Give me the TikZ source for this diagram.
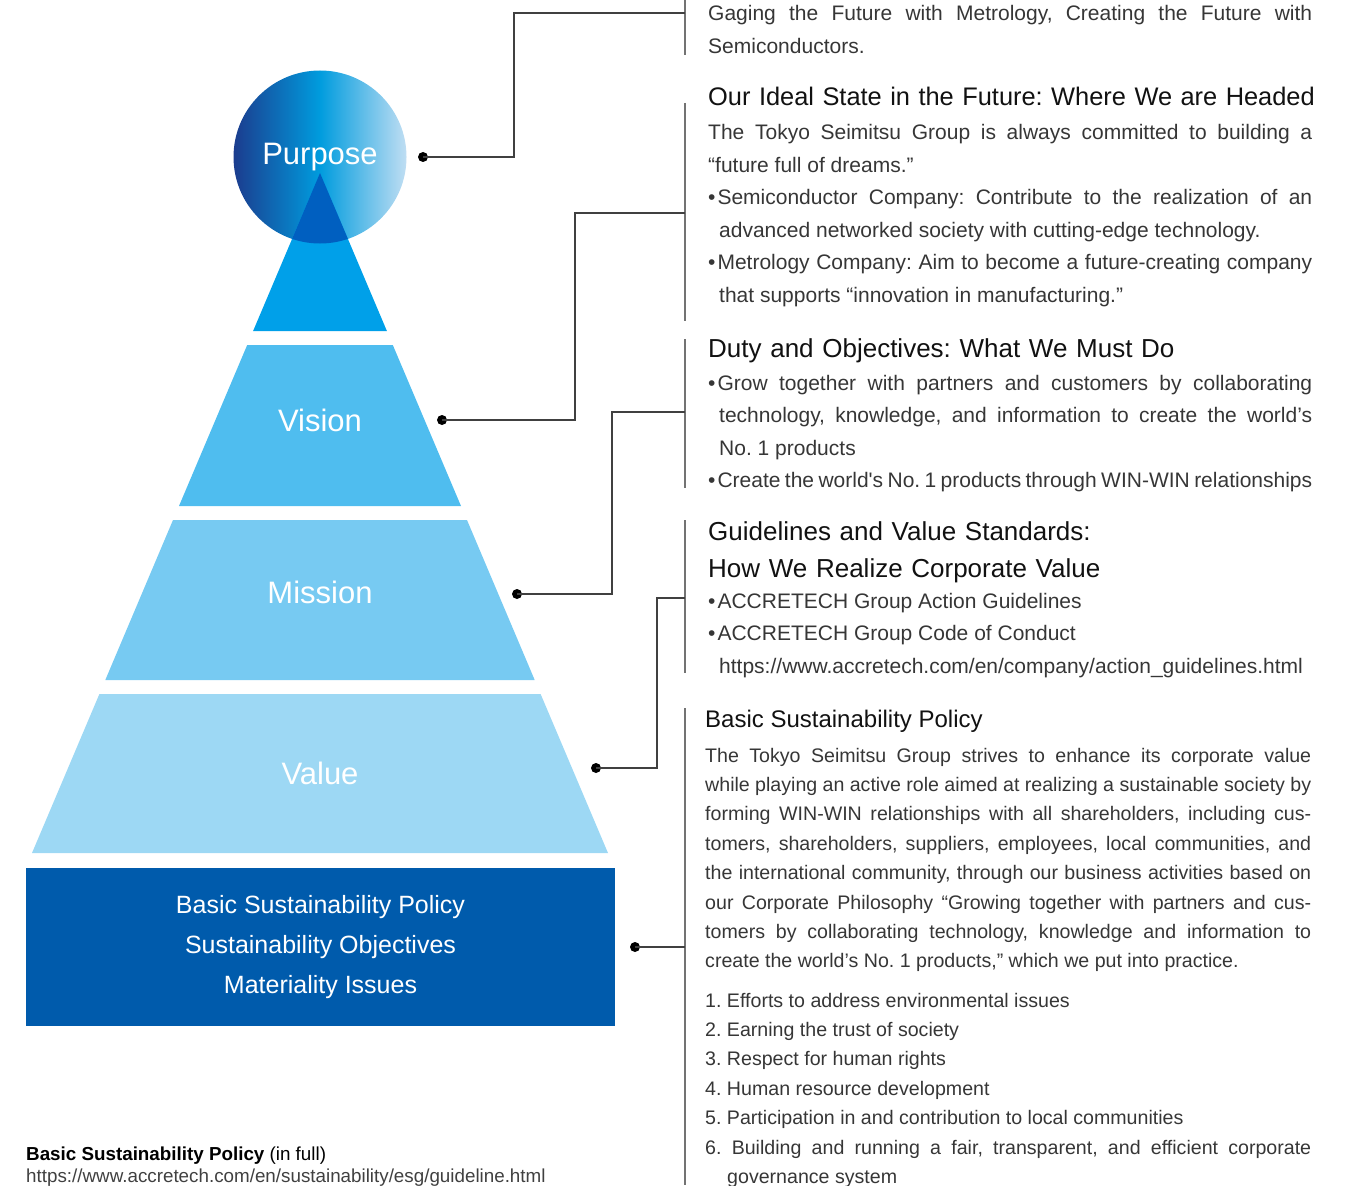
\documentclass[tikz,border=0pt]{standalone}
\usepackage{fontspec}
\setmainfont{Liberation Sans}
\frenchspacing
\tolerance=9999
\emergencystretch=10pt
\hyphenpenalty=10000
\exhyphenpenalty=10000

\definecolor{navy}{HTML}{1B3C8E}
\definecolor{midblue}{HTML}{009CDE}
\definecolor{paleblue}{HTML}{C0DEF3}
\definecolor{deepblue}{HTML}{005FC0}
\definecolor{topblue}{HTML}{00A0E9}
\definecolor{visionblue}{HTML}{4FBDEF}
\definecolor{missionblue}{HTML}{77CAF2}
\definecolor{valueblue}{HTML}{9DD8F4}
\definecolor{basisblue}{HTML}{005BAC}
\definecolor{headink}{HTML}{111111}
\definecolor{bodyink}{HTML}{363636}

\newcommand{\bitem}[1]{\hangindent=11pt\hangafter=1 •\kern2pt#1\par}

\tikzset{
	rotulo/.style={anchor=base, text=white, font=\fontsize{31}{36}\selectfont},
	basis/.style={rectangle, fill=basisblue, text=white, align=center,
		font=\fontsize{25}{40}\selectfont, minimum width=589pt, minimum height=158pt},
	dot/.style={circle, fill=black, inner sep=0pt, minimum size=10pt},
	conn/.style={draw=black!75, line width=1.3pt},
	bar/.style={draw=black!55, line width=1.6pt},
	tit/.style={anchor=base west, inner sep=0pt, text width=630pt, align=left,
		text=headink, font=\fontsize{26}{37}\selectfont},
	txt/.style={anchor=base west, inner sep=0pt, text width=604pt, align=justify,
		text=bodyink, font=\fontsize{21}{32.5}\selectfont},
	subtit/.style={anchor=base west, inner sep=0pt, text=headink,
		font=\fontsize{24}{29}\selectfont},
	small/.style={anchor=base west, inner sep=0pt, text width=606pt, align=justify,
		text=bodyink, font=\fontsize{19.6}{29.4}\selectfont},
	nota/.style={anchor=base west, inner sep=0pt, text=black,
		font=\fontsize{18.8}{22}\selectfont}
}

\begin{document}
\begin{tikzpicture}[x=1pt, y=-1pt]
	\useasboundingbox (0,0) rectangle (1348,1185);
	
	% piramide
	\node[circle, minimum size=173pt, inner sep=0pt, left color=navy, right color=paleblue, middle color=midblue] (circ) at (320,157) {};
	\fill[topblue] (320,173) -- (386.9,331) -- (253.1,331) -- cycle;
	\begin{scope}
		\clip (circ.center) circle[radius=86.5pt];
		\fill[deepblue] (320,173) -- (386.9,331) -- (253.1,331) -- cycle;
	\end{scope}
	\fill[visionblue] (247.2,345) -- (392.8,345) -- (461,506) -- (179,506) -- cycle;
	\fill[missionblue] (173,520) -- (467,520) -- (534.7,680) -- (105.3,680) -- cycle;
	\fill[valueblue] (99.4,694) -- (540.6,694) -- (608,853) -- (32,853) -- cycle;
	\node[basis] (basis) at (320.5,947) {Basic Sustainability Policy\\Sustainability Objectives\\Materiality Issues};
	
	\node[rotulo] (purpose) at (320,165) {Purpose};
	\node[rotulo] (vision) at (320,431) {Vision};
	\node[rotulo] (mission) at (320,603) {Mission};
	\node[rotulo] (value) at (320,784) {Value};
	
	% lineas
	\draw[bar] (685,0) -- (685,55);
	\draw[bar] (685,103) -- (685,321);
	\draw[bar] (685,339) -- (685,488);
	\draw[bar] (685,520) -- (685,673);
	\draw[bar] (685,708) -- (685,1185);
	
	\coordinate (jPurpose) at (685,13);
	\coordinate (jVision) at (685,213);
	\coordinate (jMission) at (685,412);
	\coordinate (jValue) at (685,598);
	\coordinate (jBasis) at (685,947);
	
	\node[dot] (dPurpose) at (423,157) {};
	\node[dot] (dVision) at (442,420) {};
	\node[dot] (dMission) at (517,594) {};
	\node[dot] (dValue) at (596,768) {};
	\node[dot] (dBasis) at (635,947) {};
	
	\draw[conn] (dPurpose.center) -- ++(91,0) |- (jPurpose);
	\draw[conn] (dVision.center) -- ++(133,0) |- (jVision);
	\draw[conn] (dMission.center) -- ++(95,0) |- (jMission);
	\draw[conn] (dValue.center) -- ++(61,0) |- (jValue);
	\draw[conn] (dBasis.center) -- (jBasis);
	
	% textos
	\node[txt] (lema) at (708,21) {Gaging the Future with Metrology, Creating the Future with\linebreak Semiconductors.};
	
	\node[tit, font=\fontsize{25.4}{37}\selectfont] (ideal) at (708,106) {Our Ideal State in the Future: Where We are Headed};
	\node[txt] (idealtxt) at (708,140) {The Tokyo Seimitsu Group is always committed to building a\linebreak “future full of dreams.”\par
		\bitem{Semiconductor Company: Contribute to the realization of an\linebreak advanced networked society with cutting-edge technology.}
		\bitem{Metrology Company: Aim to become a future-creating company\linebreak that supports “innovation in manufacturing.”}};
	
	\node[tit] (duty) at (708,357) {Duty and Objectives: What We Must Do};
	\node[txt] (dutytxt) at (708,390) {\bitem{Grow together with partners and customers by collaborating\linebreak technology, knowledge, and information to create the world’s\linebreak No. 1 products}
		\bitem{Create the world\textquotesingle s No. 1 products through WIN-WIN relationships}};
	
	\node[tit] (guide) at (708,540) {Guidelines and Value Standards:\\How We Realize Corporate Value};
	\node[txt] (guidetxt) at (708,608) {\bitem{ACCRETECH Group Action Guidelines}
		\bitem{ACCRETECH Group Code of Conduct\newline https://www.accretech.com/en/company/action\_guidelines.html}};
	
	\node[subtit] (policy) at (705,727) {Basic Sustainability Policy};
	\node[small] (policytxt) at (705,762) {The Tokyo Seimitsu Group strives to enhance its corporate value\linebreak while playing an active role aimed at realizing a sustainable society by\linebreak forming WIN-WIN relationships with all shareholders, including cus-\linebreak tomers, shareholders, suppliers, employees, local communities, and\linebreak the international community, through our business activities based on\linebreak our Corporate Philosophy “Growing together with partners and cus-\linebreak tomers by collaborating technology, knowledge and information to\linebreak create the world’s No. 1 products,” which we put into practice.};
	\node[small] (policylist) at (705,1007) {1. Efforts to address environmental issues\par
		2. Earning the trust of society\par
		3. Respect for human rights\par
		4. Human resource development\par
		5. Participation in and contribution to local communities\par
		\hangindent=22pt\hangafter=1 6. Building and running a fair, transparent, and efficient corporate\linebreak governance system\par};
	
	\node[nota] (full) at (26,1160) {\textbf{Basic Sustainability Policy} (in full)};
	\node[nota, text=black!75] (url) at (26,1182) {https://www.accretech.com/en/sustainability/esg/guideline.html};
\end{tikzpicture}
\end{document}
